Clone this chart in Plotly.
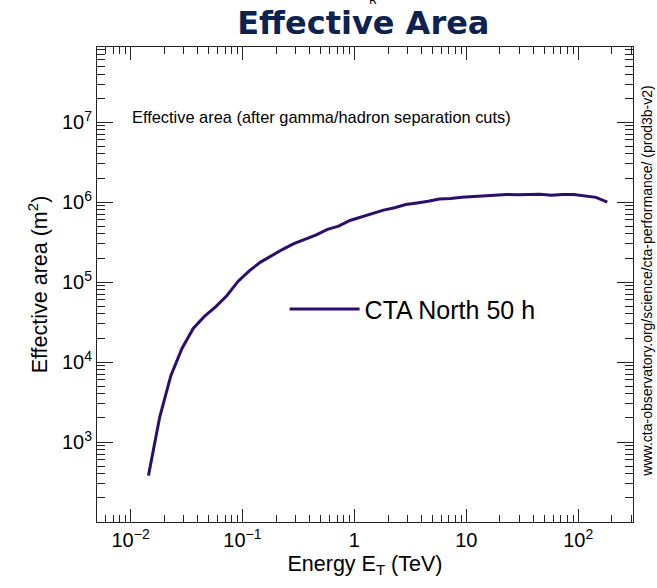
import plotly.graph_objects as go

# Effective area vs true energy, CTA North, 50 h observation
energy_tev = [0.01445, 0.0182, 0.0229, 0.0288, 0.0363, 0.0457, 0.0575, 0.0724,
              0.0912, 0.115, 0.145, 0.182, 0.229, 0.288, 0.363, 0.457, 0.575,
              0.724, 0.912, 1.148, 1.445, 1.82, 2.29, 2.88, 3.63, 4.57, 5.75,
              7.24, 9.12, 11.48, 14.45, 18.2, 22.9, 28.8, 36.3, 45.7, 57.5,
              72.4, 91.2, 114.8, 144.5, 182.0]
area_m2 = [380, 2040, 6760, 14800, 26300, 37200, 49000, 67600,
           102000, 138000, 178000, 214000, 257000, 302000, 339000, 389000, 457000,
           501000, 589000, 646000, 724000, 794000, 851000, 933000, 977000, 1.023e6, 1.096e6,
           1.109e6, 1.148e6, 1.175e6, 1.202e6, 1.23e6, 1.245e6, 1.239e6, 1.259e6, 1.259e6, 1.216e6,
           1.245e6, 1.245e6, 1.189e6, 1.148e6, 1.0e6]
series_name = "CTA North 50 h"

x_tick_vals = [0.01, 0.1, 1, 10, 100]
x_tick_text = ["10<sup>−2</sup>", "10<sup>−1</sup>", "1", "10", "10<sup>2</sup>"]
y_tick_vals = [1e3, 1e4, 1e5, 1e6, 1e7]
y_tick_text = ["10<sup>3</sup>", "10<sup>4</sup>", "10<sup>5</sup>", "10<sup>6</sup>", "10<sup>7</sup>"]

# minor ticks at 2..9 within each decade
x_minor = [m * 10 ** e for e in range(-3, 3) for m in range(2, 10)]
y_minor = [m * 10 ** e for e in range(2, 8) for m in range(2, 10)]

LINE_COLOR = "#2c0e6b"
FRAME = "#222222"
FONT = "Liberation Sans, Arial, sans-serif"

fig = go.Figure()
fig.add_trace(go.Scatter(
    x=energy_tev, y=area_m2, mode="lines", name=series_name,
    line=dict(color=LINE_COLOR, width=3),
))

axis_common = dict(
    type="log", showgrid=False, zeroline=False, showline=True,
    linecolor=FRAME, linewidth=1, mirror="allticks",
    ticks="inside", tickcolor=FRAME, tickwidth=1,
    tickfont=dict(family=FONT, size=20, color="#000"),
)

fig.update_xaxes(
    **axis_common,
    range=[-2.3, 2.49],
    tickvals=x_tick_vals, ticktext=x_tick_text, ticklen=13,
    minor=dict(tickvals=x_minor, ticks="inside", ticklen=7, tickcolor=FRAME, showgrid=False),
    title=dict(text="Energy E<sub>T</sub> (TeV)", font=dict(family=FONT, size=21.5, color="#000"), standoff=5),
)
fig.update_yaxes(
    **axis_common,
    range=[2.0, 7.94],
    tickvals=y_tick_vals, ticktext=y_tick_text, ticklen=16,
    minor=dict(tickvals=y_minor, ticks="inside", ticklen=8, tickcolor=FRAME, showgrid=False),
    title=dict(text="Effective area (m<sup>2</sup>)", font=dict(family=FONT, size=21.5, color="#000"), standoff=8),
)

fig.update_layout(
    width=657, height=588,
    margin=dict(l=97, r=24, t=47, b=66),
    paper_bgcolor="white", plot_bgcolor="white",
    title=dict(text="<b>Effective Area</b>", x=0.553, xanchor="center", y=0.962, yanchor="middle",
               font=dict(family="DejaVu Sans", size=32, color="#0d2250")),
    showlegend=True,
    legend=dict(x=0.35, y=0.448, xanchor="left", yanchor="middle",
                bgcolor="rgba(0,0,0,0)", itemwidth=70,
                font=dict(family=FONT, size=25, color="#000")),
    annotations=[
        dict(text="Effective area (after gamma/hadron separation cuts)",
             xref="paper", yref="paper", x=0.062, y=0.853, xanchor="left", yanchor="middle",
             showarrow=False, font=dict(family=FONT, size=16.4, color="#000")),
        dict(text="www.cta-observatory.org/science/cta-performance/ (prod3b-v2)",
             xref="paper", yref="paper", x=1.027, y=0.507, xanchor="center", yanchor="middle",
             textangle=-90, showarrow=False, font=dict(family=FONT, size=14, color="#000")),
        dict(text="R", xref="paper", yref="paper", x=0.515, y=1.0, xanchor="center",
             yanchor="bottom", yshift=38, showarrow=False,
             font=dict(family="DejaVu Sans", size=11, color="#000")),
    ],
)

fig.write_html("out.html")
